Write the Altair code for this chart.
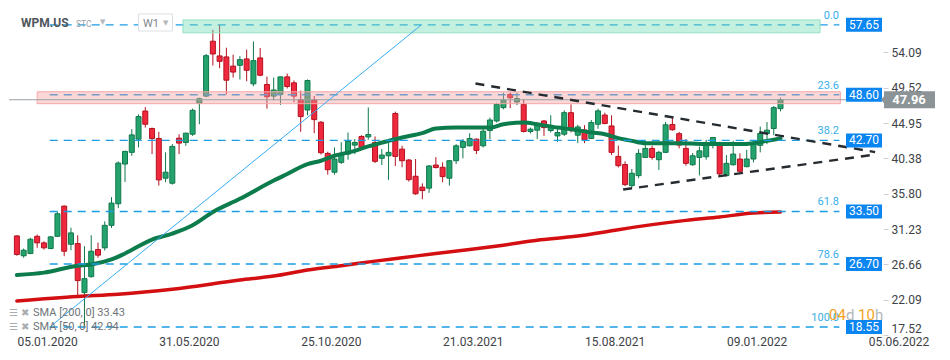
import altair as alt
import pandas as pd

# ---------------- data (weekly candles WPM.US) ----------------
first_week = "2020-01-05"
opens = [30.34, 27.77, 28.07, 30.29, 29.44, 28.71, 30.29, 34.20, 29.26, 29.35,
         23.01, 25.07, 28.58, 28.80, 31.71, 34.50, 39.64, 41.15, 42.86, 46.50,
         44.24, 42.95, 37.81, 37.16, 42.99, 42.43, 43.50, 47.49, 48.43, 55.53,
         53.63, 53.50, 52.31, 52.42, 53.24, 50.02, 53.37, 49.93, 48.43, 48.65,
         50.92, 50.15, 47.96, 46.63, 47.94, 45.05, 41.02, 38.58, 39.86, 40.93,
         42.09, 43.21, 43.15, 42.43, 40.38, 40.71, 46.18, 41.57, 40.16, 38.06,
         36.65, 36.52, 39.51, 39.22, 37.81, 40.07, 41.79, 42.00, 42.86, 42.00,
         43.98, 45.21, 46.94, 48.65, 47.68, 47.36, 43.85, 44.02, 45.21, 43.98,
         43.28, 43.50, 46.29, 43.37, 44.05, 42.95, 44.79, 45.98, 44.57, 40.63,
         39.58, 36.85, 38.14, 40.50, 41.66, 40.20, 41.15, 44.75, 43.57, 41.66,
         39.55, 40.50, 40.58, 42.43, 42.43, 38.14, 39.55, 40.29, 39.30, 40.29,
         42.06, 43.59, 44.24, 46.81]
highs = [30.42, 28.71, 30.09, 30.51, 29.65, 30.29, 33.43, 34.28, 31.41, 30.42,
         29.01, 30.42, 29.48, 32.22, 35.36, 39.99, 41.35, 44.15, 46.07, 47.01,
         44.36, 43.80, 41.15, 42.22, 43.50, 43.72, 46.81, 48.22, 53.88, 57.01,
         57.65, 54.69, 53.79, 53.60, 54.44, 55.50, 54.65, 50.96, 50.83, 50.96,
         51.35, 50.45, 49.14, 50.58, 48.45, 45.21, 41.23, 41.79, 42.47, 43.72,
         42.86, 43.37, 46.97, 43.21, 41.57, 42.35, 46.42, 42.00, 40.29, 40.29,
         37.14, 39.51, 40.54, 39.86, 40.16, 42.22, 42.86, 43.63, 42.95, 44.36,
         45.65, 47.58, 48.87, 48.90, 48.87, 48.00, 44.36, 44.79, 45.34, 45.95,
         44.15, 46.59, 47.36, 44.72, 44.66, 45.34, 46.81, 46.29, 45.95, 42.02,
         39.99, 39.00, 41.57, 42.64, 42.00, 41.35, 45.08, 45.65, 43.80, 42.86,
         41.06, 41.89, 42.77, 43.08, 42.51, 40.80, 42.64, 41.02, 41.48, 42.73,
         44.49, 45.08, 47.14, 48.22]
lows = [27.77, 27.52, 27.98, 28.80, 28.58, 28.62, 30.22, 27.72, 28.49, 22.63,
        18.55, 24.94, 27.52, 28.45, 31.37, 33.94, 37.33, 40.71, 41.79, 44.36,
        40.93, 36.85, 37.29, 36.98, 40.93, 42.00, 43.28, 44.79, 48.30, 52.38,
        52.03, 48.65, 50.83, 50.58, 50.36, 49.71, 51.00, 46.81, 47.87, 47.30,
        49.42, 47.62, 43.82, 45.95, 43.63, 40.87, 38.27, 38.27, 39.64, 40.20,
        40.93, 41.57, 42.79, 39.77, 39.51, 37.59, 39.39, 39.22, 37.37, 35.66,
        35.08, 35.91, 39.06, 37.29, 36.85, 39.64, 40.38, 41.92, 40.93, 41.79,
        42.86, 45.01, 46.72, 46.88, 47.27, 43.72, 43.59, 42.86, 43.28, 43.72,
        42.51, 43.28, 43.72, 42.35, 42.35, 42.86, 44.21, 44.79, 40.80, 39.19,
        36.78, 36.56, 37.81, 40.41, 40.20, 38.87, 41.06, 43.95, 41.66, 39.43,
        39.43, 38.16, 40.20, 41.66, 38.14, 38.06, 39.43, 38.58, 39.22, 39.86,
        41.15, 42.22, 43.37, 46.46]
closes = [27.94, 28.49, 29.91, 29.44, 28.80, 30.22, 33.21, 28.36, 30.73, 24.56,
          24.81, 28.36, 27.85, 31.71, 34.59, 39.77, 41.28, 43.41, 45.78, 44.79,
          42.95, 37.59, 38.58, 41.92, 42.35, 43.63, 46.59, 48.09, 53.66, 53.88,
          52.93, 50.49, 51.54, 53.15, 51.77, 53.02, 51.13, 48.35, 49.22, 50.92,
          49.67, 48.43, 45.78, 50.45, 45.39, 41.10, 38.91, 40.29, 41.02, 42.56,
          42.43, 41.79, 43.46, 39.99, 40.80, 41.15, 40.63, 40.07, 37.62, 35.79,
          36.21, 39.39, 39.19, 38.01, 40.07, 42.00, 42.56, 42.95, 41.41, 43.89,
          45.34, 47.36, 47.91, 48.22, 48.11, 43.85, 44.15, 44.70, 44.36, 44.36,
          43.72, 46.29, 44.36, 44.44, 42.73, 45.01, 46.52, 44.88, 41.15, 39.43,
          36.98, 38.45, 41.02, 41.66, 40.50, 41.15, 44.72, 44.08, 42.09, 39.73,
          40.71, 41.35, 42.43, 43.08, 38.36, 39.73, 40.93, 38.70, 40.29, 42.35,
          43.60, 44.02, 46.94, 47.96]

sma50_week = [0, 4, 9, 11, 14, 16, 20, 23, 26, 29, 33, 38, 40, 43, 45, 47, 50, 52, 55, 57,
              60, 62, 65, 67, 70, 72, 75, 77, 80, 82, 85, 87, 89, 91, 93, 98, 103, 107,
              109, 111, 113]
sma50_value = [25.28, 25.59, 26.49, 26.65, 27.30, 28.07, 29.87, 30.64, 31.71, 33.43,
               35.14, 37.50, 38.36, 39.64, 40.07, 40.71, 41.35, 41.92, 42.64, 43.08,
               43.63, 44.24, 44.36, 44.36, 44.36, 44.79, 45.01, 44.79, 44.36, 44.15,
               43.72, 43.50, 42.99, 42.64, 42.34, 42.34, 42.22, 42.22, 42.34, 42.64, 42.94]
sma200_week = [0, 9, 15, 23, 33, 38, 43, 48, 53, 57, 62, 67, 72, 77, 82, 87, 89, 94, 99,
               104, 109, 113]
sma200_value = [21.93, 22.50, 22.79, 23.44, 24.63, 25.15, 25.92, 26.49, 27.08, 27.51,
                28.07, 28.58, 29.14, 29.78, 30.22, 30.86, 31.15, 31.80, 32.35, 32.79,
                33.30, 33.43]

fib_levels = [57.65, 48.60, 42.70, 33.50, 26.70, 18.55]
fib_labels = ["0.0", "23.6", "38.2", "61.8", "78.6", "100.0"]
fib_from, fib_to = "2020-02-08", "2022-05-06"

zone_names = ["resistance", "pivot"]
zone_start = ["2020-06-25", "2020-01-26"]
zone_end = ["2022-04-16", "2022-05-07"]
zone_low = [56.62, 47.45]
zone_high = [58.29, 48.99]
last_price = 47.96

fan_dates = ["2020-02-08", "2021-02-27"]
fan_prices = [18.55, 57.65]
wedge_line = ["upper", "upper", "lower", "lower"]
wedge_dates = ["2021-04-24", "2022-06-12", "2021-09-24", "2022-06-12"]
wedge_prices = [50.06, 41.19, 36.34, 40.87]

y_ticks = [54.09, 49.52, 44.95, 40.38, 35.80, 31.23, 26.66, 22.09, 17.52]
x_ticks = ["2020-01-05", "2020-05-31", "2020-10-25", "2021-03-21", "2021-08-15",
           "2022-01-09", "2022-06-05"]
x_domain = ["2020-01-02", "2022-06-15"]
y_domain = [17.52, 59.83]

legend_lines = ["SMA [200, 0] 33.43", "SMA [50, 0] 42.94"]

# ---------------- styling ----------------
G_FILL, G_LINE = "#25a36f", "#10774a"
R_FILL, R_LINE = "#f0283d", "#b3121f"
FIB = "#1b9de3"
FONT = "Roboto"
W, H = 874, 327


def ms(s):
    return int(pd.Timestamp(s, tz="UTC").timestamp() * 1000)


def wk(k):
    return (pd.Timestamp(first_week) + pd.Timedelta(weeks=k)).strftime("%Y-%m-%d")


xs = alt.Scale(type="utc", domain=[ms(d) for d in x_domain], nice=False)
ys = alt.Scale(domain=y_domain, nice=False, zero=False)
xaxis = alt.Axis(values=[ms(d) for d in x_ticks],
                 labelExpr="utcFormat(datum.value, '%d.%m.%Y')",
                 labelAlign="left", labelPadding=1, ticks=False, domain=False, grid=False,
                 labelFont=FONT, labelFontSize=12, labelColor="#3d4247", title=None,
                 labelFlush=False, labelOverlap=False)
yaxis = alt.Axis(values=y_ticks, format=".2f", orient="right", domain=False, grid=False,
                 tickSize=5, tickColor="#cdd1d4", labelPadding=3, labelFont=FONT,
                 labelFontSize=12, labelColor="#3d4247", title=None, labelFlush=True,
                 labelOverlap=False)


def X(f):
    return alt.X(f, type="temporal", scale=xs, axis=xaxis)


def Y(f):
    return alt.Y(f, type="quantitative", scale=ys, axis=yaxis)


up = "datum.close >= datum.open"

candles = pd.DataFrame({
    "date": pd.date_range(first_week, periods=len(closes), freq="7D").strftime("%Y-%m-%d"),
    "open": opens, "high": highs, "low": lows, "close": closes})

wicks = alt.Chart(candles).mark_rule(strokeWidth=1).encode(
    x=X("date"), y=Y("low"), y2=alt.Y2("high"),
    color=alt.condition(up, alt.value(G_LINE), alt.value(R_LINE)))
bodies = alt.Chart(candles).mark_bar(size=5, strokeWidth=1).encode(
    x=X("date"), y=Y("open"), y2=alt.Y2("close"),
    fill=alt.condition(up, alt.value(G_FILL), alt.value(R_FILL)),
    stroke=alt.condition(up, alt.value(G_LINE), alt.value(R_LINE)))

sma50 = pd.DataFrame({"date": [wk(k) for k in sma50_week], "value": sma50_value})
sma200 = pd.DataFrame({"date": [wk(k) for k in sma200_week], "value": sma200_value})
sma50_line = alt.Chart(sma50).mark_line(strokeWidth=4, color="#0d7c4c", interpolate="monotone",
                                        strokeCap="round").encode(x=X("date"), y=Y("value"))
sma200_line = alt.Chart(sma200).mark_line(strokeWidth=3.5, color="#d40f12", interpolate="monotone",
                                          strokeCap="round").encode(x=X("date"), y=Y("value"))

fib = pd.DataFrame({"price": fib_levels, "label": fib_labels,
                    "start": fib_from, "end": fib_to})
fib_rules = alt.Chart(fib).mark_rule(strokeDash=[8, 6], color=FIB, strokeWidth=1.4).encode(
    x=X("start"), x2=alt.X2("end"), y=Y("price"))

zones = pd.DataFrame({"name": zone_names, "start": zone_start, "end": zone_end,
                      "low": zone_low, "high": zone_high})
zone_rects = alt.Chart(zones).mark_rect(strokeWidth=1).encode(
    x=X("start"), x2=alt.X2("end"), y=Y("low"), y2=alt.Y2("high"),
    fill=alt.Fill("name:N", scale=alt.Scale(domain=zone_names, range=["#6bdcb0", "#f79a9c"]),
                  legend=None),
    stroke=alt.Stroke("name:N", scale=alt.Scale(domain=zone_names, range=["#95e2c4", "#f4a7a8"]),
                      legend=None),
    fillOpacity=alt.value(0.4))

last_df = pd.DataFrame({"price": [last_price]})
last_rule = alt.Chart(last_df).mark_rule(color="#9aa1a6", strokeWidth=1).encode(y=Y("price"))

fan = pd.DataFrame({"date": fan_dates, "price": fan_prices})
fan_line = alt.Chart(fan).mark_line(color="#35acf2", strokeWidth=1).encode(x=X("date"), y=Y("price"))

wedge = pd.DataFrame({"line": wedge_line, "date": wedge_dates, "price": wedge_prices})
wedge_lines = alt.Chart(wedge).mark_line(color="#262b30", strokeWidth=2.4,
                                         strokeDash=[9, 7]).encode(
    x=X("date"), y=Y("price"), detail="line:N")

fib_text = alt.Chart(fib).mark_text(align="right", baseline="middle", dy=-9, fontSize=11,
                                    color="#39aee9", font=FONT).encode(
    x=alt.value(830), y=Y("price"), text="label:N")

tags = pd.DataFrame({"price": fib_levels})
tag_box = alt.Chart(tags).mark_point(shape="M-18,-7L18,-7L18,7L-18,7Z", size=4, filled=True,
                                     fill="#0b85f0", opacity=1, strokeWidth=0).encode(
    x=alt.value(855), y=Y("price"))
tag_text = alt.Chart(tags).mark_text(fontSize=12, color="white", font=FONT).encode(
    x=alt.value(855), y=Y("price"), text=alt.Text("price:Q", format=".2f"))

last_box = alt.Chart(last_df).mark_point(
    shape="M-25,-8.5L26,-8.5L26,8.5L-25,8.5L-25,3.5L-28,0L-25,-3.5Z", size=4, filled=True,
    fill="#8c9498", opacity=1, strokeWidth=0).encode(x=alt.value(900), y=Y("price"))
last_text = alt.Chart(last_df).mark_text(fontSize=13, fontWeight="bold", color="white",
                                         font=FONT).encode(
    x=alt.value(900), y=Y("price"), text=alt.Text("price:Q", format=".2f"))


def label(txt, x, y, **style):
    base = dict(align="left", baseline="middle", font=FONT)
    base.update(style)
    return alt.Chart(pd.DataFrame({"t": [txt]})).mark_text(**base).encode(
        x=alt.value(x), y=alt.value(y), text="t:N")


w1_box = alt.Chart(pd.DataFrame({"t": ["W1"]})).mark_point(
    shape="M-17,-8.5L17,-8.5L17,8.5L-17,8.5Z", size=4, filled=True, fill="white",
    stroke="#dcdfe2", strokeWidth=1, opacity=1).encode(x=alt.value(146.5), y=alt.value(14.5))

overlays = [
    label("WPM.US", 12, 15, fontSize=12, fontWeight="bold", color="#50565c"),
    label("STC", 67, 16, fontSize=8.5, color="#9aa0a6"),
    label("▼", 91, 14, fontSize=7, color="#b3b8bd", font="DejaVu Sans"),
    w1_box,
    label("W1", 134, 15.5, fontSize=11, color="#80868c"),
    label("▼", 154, 15, fontSize=7, color="#b3b8bd", font="DejaVu Sans"),
    label("☰", 0, 305, fontSize=10, color="#a9adb1", font="DejaVu Sans"),
    label("✖", 12, 305, fontSize=10, color="#a9adb1", font="DejaVu Sans"),
    label("☰", 0, 319, fontSize=10, color="#a9adb1", font="DejaVu Sans"),
    label("✖", 12, 319, fontSize=10, color="#a9adb1", font="DejaVu Sans"),
    label(legend_lines[0], 24, 305, fontSize=11, color="#6e7378"),
    label(legend_lines[1], 24, 319, fontSize=11, color="#6e7378"),
    label("04", 820, 307, fontSize=15, color="#f5a31c"),
    label("d", 837, 307, fontSize=15, color="#b3b7bb"),
    label("10", 849, 307, fontSize=15, color="#f5a31c"),
    label("h", 866, 307, fontSize=15, color="#b3b7bb"),
]

chart = alt.layer(
    wicks, bodies, sma200_line, sma50_line, fib_rules, zone_rects, last_rule,
    fan_line, wedge_lines, fib_text, tag_box, tag_text, last_box, last_text, *overlays
).properties(width=W, height=H, padding=0, background="white").configure_view(
    strokeWidth=0).configure_axis(grid=False)

chart.save("out.html", embed_options={"renderer": "svg", "actions": False})
